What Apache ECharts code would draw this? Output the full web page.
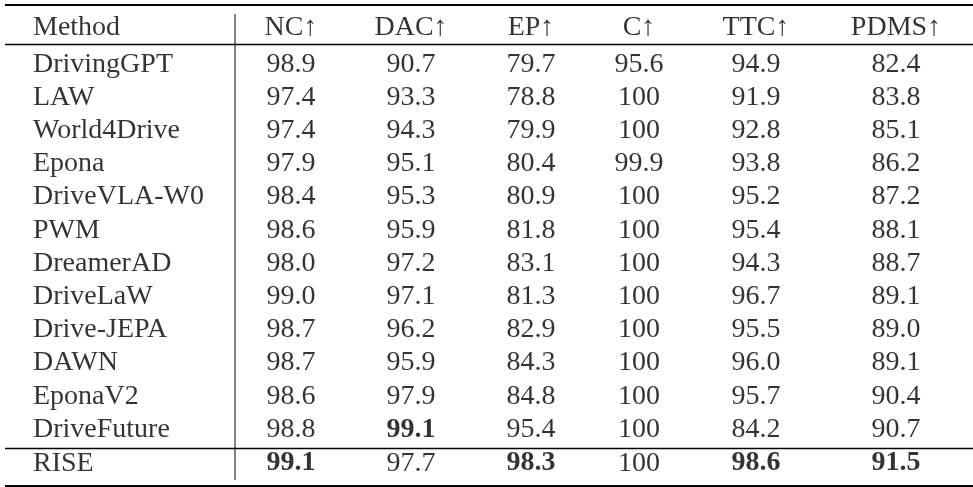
<!DOCTYPE html>
<html>
<head>
<meta charset="utf-8">
<script src="https://cdn.jsdelivr.net/npm/echarts@6/dist/echarts.min.js"></script>
<style>
html,body{margin:0;padding:0;background:#fff;}
#chart{width:973px;height:487px;}
</style>
</head>
<body>
<div id="chart"></div>
<script>
// ---- data ----
const headers = ['Method', 'NC↑', 'DAC↑', 'EP↑', 'C↑', 'TTC↑', 'PDMS↑'];
const methods = ['DrivingGPT', 'LAW', 'World4Drive', 'Epona', 'DriveVLA-W0', 'PWM', 'DreamerAD',
  'DriveLaW', 'Drive-JEPA', 'DAWN', 'EponaV2', 'DriveFuture', 'RISE'];
const NC   = [98.9, 97.4, 97.4, 97.9, 98.4, 98.6, 98.0, 99.0, 98.7, 98.7, 98.6, 98.8, 99.1];
const DAC  = [90.7, 93.3, 94.3, 95.1, 95.3, 95.9, 97.2, 97.1, 96.2, 95.9, 97.9, 99.1, 97.7];
const EP   = [79.7, 78.8, 79.9, 80.4, 80.9, 81.8, 83.1, 81.3, 82.9, 84.3, 84.8, 95.4, 98.3];
const C    = [95.6, 100, 100, 99.9, 100, 100, 100, 100, 100, 100, 100, 100, 100];
const TTC  = [94.9, 91.9, 92.8, 93.8, 95.2, 95.4, 94.3, 96.7, 95.5, 96.0, 95.7, 84.2, 98.6];
const PDMS = [82.4, 83.8, 85.1, 86.2, 87.2, 88.1, 88.7, 89.1, 89.0, 89.1, 90.4, 90.7, 91.5];
// bold cells: [methodIndex, columnIndex (1..6)]
const boldCells = [[11, 2], [12, 1], [12, 3], [12, 5], [12, 6]];

// ---- layout (table geometry, not data) ----
const layout = {
  colX: [33, 291, 411, 531, 639, 756, 896],   // Method left edge, then column centres
  vRuleX: 235,
  headerGap: 0.105,      // extra space below header midrule (row units)
  footerGap: 0.02,       // extra space below second midrule
  midRules: [0.5, 12.66],
  outerRules: [-0.685, 13.795],
  vRuleSpan: [-0.41, 13.63],
  yMin: -0.768, yMax: 13.81,
  fontSize: 28,
  font: '"Liberation Serif", "DejaVu Serif", serif'
};

const columns = [NC, DAC, EP, C, TTC, PDMS];
const nData = methods.length;
function rowY(r) { // r = 0 header, 1..13 body rows
  let y = r;
  if (r >= 1) y += layout.headerGap;
  if (r >= nData) y += layout.footerGap;
  return y;
}
function fmt(v) { return v === 100 ? '100' : v.toFixed(1); }
function isBold(i, j) { return boldCells.some(b => b[0] === i && b[1] === j); }

const textColor = '#000';
const baseLabel = {
  show: true, position: 'inside', color: textColor,
  fontFamily: layout.font, fontSize: layout.fontSize, verticalAlign: 'middle'
};

const headerData = headers.map((h, j) => ({
  value: [layout.colX[j], rowY(0)], name: h,
  label: { align: j === 0 ? 'left' : 'center' }
}));
const methodData = methods.map((m, i) => ({
  value: [layout.colX[0], rowY(i + 1)], name: m,
  label: { align: 'left' }
}));
const valueData = [];
columns.forEach((col, c) => {
  col.forEach((v, i) => {
    const j = c + 1;
    valueData.push({
      value: [layout.colX[j], rowY(i + 1)], name: fmt(v),
      label: { align: 'center', fontWeight: isBold(i, j) ? 'bold' : 'normal' }
    });
  });
});

function textSeries(data) {
  return {
    type: 'scatter', data, symbolSize: 1, silent: true,
    itemStyle: { color: 'rgba(0,0,0,0)' },
    label: Object.assign({}, baseLabel, { formatter: p => p.name })
  };
}

const hiddenAxis = {
  axisLine: { show: false }, axisTick: { show: false }, axisLabel: { show: false }, splitLine: { show: false }
};

const chart = echarts.init(document.getElementById('chart'), null, { renderer: 'canvas' });
chart.setOption({
  animation: false,
  backgroundColor: '#fff',
  grid: { left: 5, right: 0, top: 2, bottom: 1, containLabel: false },
  xAxis: Object.assign({ type: 'value', min: 5, max: 973 }, hiddenAxis),
  yAxis: Object.assign({ type: 'value', inverse: true, min: layout.yMin, max: layout.yMax }, hiddenAxis),
  series: [
    textSeries(headerData),
    textSeries(methodData),
    textSeries(valueData),
    {
      type: 'line', silent: true, symbol: 'none', clip: false,
      data: [[layout.vRuleX, layout.vRuleSpan[0]], [layout.vRuleX, layout.vRuleSpan[1]]],
      lineStyle: { color: '#333', width: 1.2 },
      markLine: {
        silent: true, symbol: ['none', 'none'], label: { show: false },
        lineStyle: { color: '#000', type: 'solid' },
        data: layout.midRules.map(y => ({ yAxis: y, lineStyle: { width: 1.3 } }))
          .concat(layout.outerRules.map(y => ({ yAxis: y, lineStyle: { width: 2 } })))
      }
    }
  ]
});
</script>
</body>
</html>
